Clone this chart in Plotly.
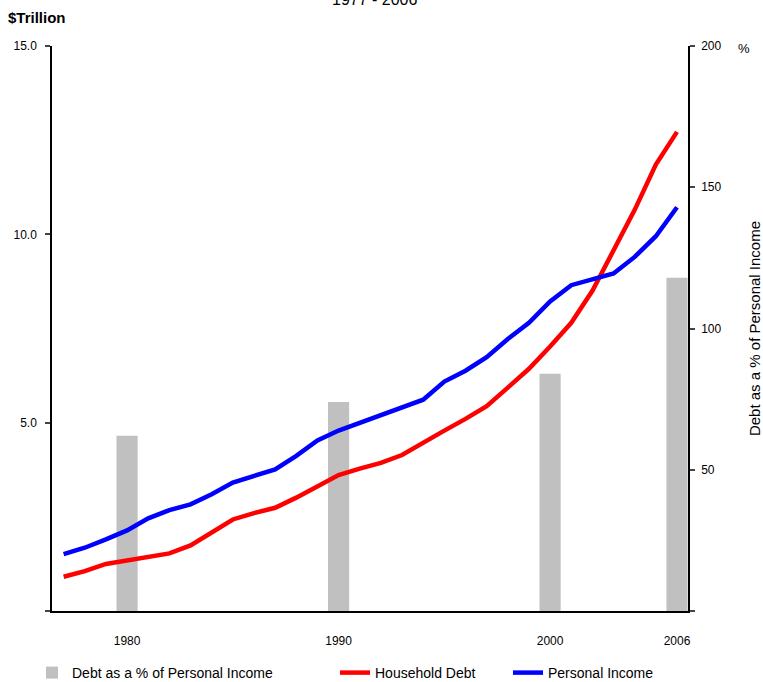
import plotly.graph_objects as go

# ---- data ----
years = list(range(1977, 2007))
household_debt = [0.91, 1.06, 1.25, 1.34, 1.46, 1.53, 1.74, 2.08, 2.43, 2.60,
                  2.74, 3.01, 3.30, 3.61, 3.78, 3.93, 4.14, 4.48, 4.79, 5.10,
                  5.44, 5.93, 6.43, 7.02, 7.65, 8.50, 9.55, 10.65, 11.85, 12.72]
personal_income = [1.51, 1.68, 1.90, 2.14, 2.46, 2.68, 2.83, 3.10, 3.41, 3.59,
                   3.76, 4.12, 4.53, 4.79, 5.00, 5.20, 5.39, 5.61, 6.09, 6.38,
                   6.74, 7.22, 7.65, 8.22, 8.65, 8.79, 8.96, 9.40, 9.95, 10.72]
bar_years = [1980, 1990, 2000, 2006]
debt_pct_income = [62, 74, 84, 118]

x_tick_vals = [1980, 1990, 2000, 2006]
x_tick_text = ["1980", "1990", "2000", "2006"]
left_tick_vals = [0, 5, 10, 15]
left_tick_text = ["", "5.0", "10.0", "15.0"]
right_tick_vals = [0, 50, 100, 150, 200]
right_tick_text = ["", "50", "100", "150", "200"]

FONT = "Liberation Sans, Arial, sans-serif"

W, H = 763, 682
ML, MR, MT, MB = 52, 75, 46, 71
plot_w = W - ML - MR
plot_h = H - MT - MB


def px_to_paper(px, py):
    return (px - ML) / plot_w, (H - MB - py) / plot_h


fig = go.Figure()
fig.add_trace(go.Bar(
    x=bar_years, y=debt_pct_income, width=1.0,
    marker=dict(color="#C0C0C0", line=dict(width=0)),
    name="Debt as a % of Personal Income", yaxis="y", legend="legend"))
fig.add_trace(go.Scatter(
    x=years, y=household_debt, mode="lines",
    line=dict(color="#FF0000", width=4.5),
    name="Household Debt", yaxis="y2", legend="legend2"))
fig.add_trace(go.Scatter(
    x=years, y=personal_income, mode="lines",
    line=dict(color="#0000FF", width=4.5),
    name="Personal Income", yaxis="y2", legend="legend3"))

leg_y = px_to_paper(0, 673)[1]
leg_common = dict(orientation="h", yanchor="middle", y=leg_y,
                  xanchor="left", font=dict(size=14, color="black"),
                  bgcolor="rgba(0,0,0,0)")

fig.update_layout(
    width=W, height=H,
    margin=dict(l=ML, r=MR, t=MT, b=MB, autoexpand=False),
    paper_bgcolor="white", plot_bgcolor="white",
    font=dict(family=FONT, size=12, color="black"),
    showlegend=True,
    legend=dict(x=px_to_paper(32, 0)[0], **leg_common),
    legend2=dict(x=px_to_paper(335, 0)[0], **leg_common),
    legend3=dict(x=px_to_paper(508, 0)[0], **leg_common),
    xaxis=dict(range=[1976.45, 2006.52], tickvals=x_tick_vals, ticktext=x_tick_text,
               showline=True, linecolor="black", linewidth=1.5, ticks="",
               showgrid=False, zeroline=False, ticklabelstandoff=18,
               tickfont=dict(size=12)),
    yaxis=dict(range=[0, 200], side="right", tickvals=right_tick_vals,
               ticktext=right_tick_text, showline=True, linecolor="black",
               linewidth=1.5, ticks="outside", ticklen=5, tickwidth=1.5,
               showgrid=False, zeroline=False, tickfont=dict(size=12),
               ticklabelstandoff=4,
               title=dict(text="Debt as a % of Personal Income",
                          font=dict(size=15), standoff=32)),
    yaxis2=dict(range=[0, 15], side="left", overlaying="y", anchor="x",
                tickvals=left_tick_vals, ticktext=left_tick_text,
                showline=True, linecolor="black", linewidth=1.5,
                ticks="outside", ticklen=5, tickwidth=1.5,
                showgrid=False, zeroline=False, tickfont=dict(size=12),
                ticklabelstandoff=6),
)

ax, ay = px_to_paper(6, 17)
fig.add_annotation(text="<b>$Trillion</b>", x=ax, y=ay, xref="paper", yref="paper",
                   xanchor="left", yanchor="middle", showarrow=False,
                   font=dict(size=15))
ax, ay = px_to_paper(736, 48)
fig.add_annotation(text="%", x=ax, y=ay, xref="paper", yref="paper",
                   xanchor="left", yanchor="middle", showarrow=False,
                   font=dict(size=13))
ax, ay = px_to_paper(375, 10)
fig.add_annotation(text="1977 - 2006", x=ax, y=ay, xref="paper", yref="paper",
                   xanchor="center", yanchor="bottom", showarrow=False,
                   font=dict(size=16))

# remove the browser's default page margin so the figure sits at the top-left corner
fig.write_html("out.html", config={"displayModeBar": False},
               post_script="document.body.style.margin='0';")
